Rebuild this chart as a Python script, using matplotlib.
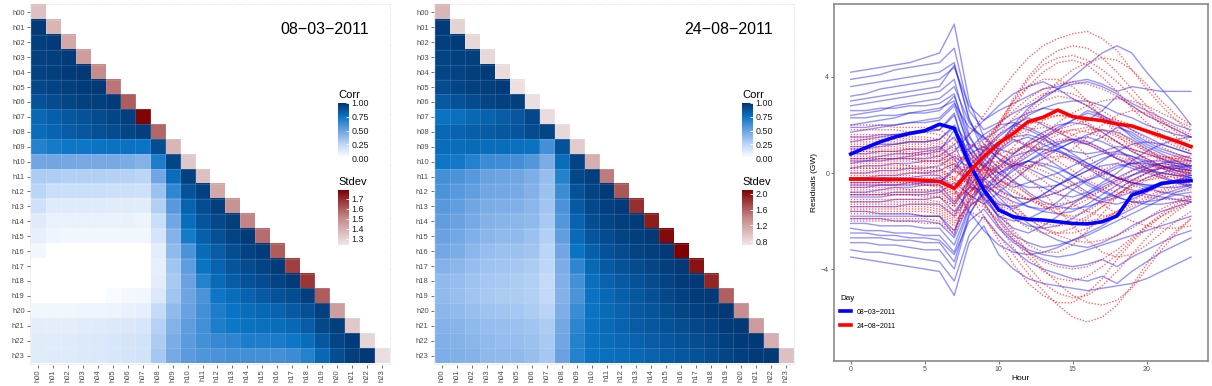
import numpy as np
import matplotlib
matplotlib.use("Agg")
import matplotlib.pyplot as plt
from matplotlib.colors import LinearSegmentedColormap, Normalize
from matplotlib.cm import ScalarMappable
from matplotlib.lines import Line2D

plt.rcParams['font.family'] = ['Liberation Sans', 'DejaVu Sans']

hours = [f"h{i:02d}" for i in range(24)]

# -----------------------------
# correlation rows (lower triangle), 08-03-2011
# -----------------------------
corr_mar = [
    [],
    [0.97],
    [0.96, 0.97],
    [0.95, 0.96, 0.97],
    [0.94, 0.96, 0.97, 0.98],
    [0.92, 0.94, 0.96, 0.97, 0.98],
    [0.88, 0.91, 0.93, 0.95, 0.96, 0.97],
    [0.80, 0.83, 0.86, 0.88, 0.91, 0.93, 0.96],
    [0.78, 0.81, 0.84, 0.86, 0.89, 0.91, 0.93, 0.96],
    [0.68, 0.72, 0.74, 0.74, 0.75, 0.76, 0.76, 0.75, 0.90],
    [0.48, 0.48, 0.47, 0.46, 0.46, 0.46, 0.45, 0.42, 0.70, 0.93],
    [0.30, 0.29, 0.28, 0.28, 0.28, 0.27, 0.27, 0.25, 0.48, 0.78, 0.95],
    [0.25, 0.20, 0.20, 0.20, 0.20, 0.19, 0.19, 0.18, 0.35, 0.65, 0.88, 0.95],
    [0.18, 0.12, 0.12, 0.12, 0.12, 0.11, 0.11, 0.11, 0.28, 0.55, 0.82, 0.90, 0.96],
    [0.12, 0.08, 0.08, 0.08, 0.08, 0.08, 0.08, 0.07, 0.20, 0.48, 0.78, 0.87, 0.92, 0.96],
    [0.09, 0.06, 0.05, 0.05, 0.05, 0.05, 0.05, 0.05, 0.16, 0.42, 0.72, 0.83, 0.89, 0.94, 0.97],
    [0.05, 0.0, 0.0, 0.0, 0.0, 0.0, 0.0, 0.0, 0.10, 0.38, 0.58, 0.79, 0.84, 0.90, 0.94, 0.97],
    [0.0, 0.0, 0.0, 0.0, 0.0, 0.0, 0.0, 0.0, 0.09, 0.33, 0.53, 0.75, 0.82, 0.87, 0.91, 0.94, 0.97],
    [0.0, 0.0, 0.0, 0.0, 0.0, 0.0, 0.0, 0.0, 0.10, 0.31, 0.50, 0.68, 0.79, 0.84, 0.88, 0.91, 0.94, 0.97],
    [0.0, 0.0, 0.0, 0.0, 0.0, 0.03, 0.04, 0.05, 0.14, 0.33, 0.49, 0.58, 0.74, 0.78, 0.82, 0.85, 0.88, 0.90, 0.96],
    [0.05, 0.05, 0.05, 0.06, 0.06, 0.07, 0.08, 0.09, 0.22, 0.38, 0.50, 0.60, 0.70, 0.75, 0.78, 0.80, 0.82, 0.85, 0.89, 0.95],
    [0.10, 0.10, 0.10, 0.11, 0.12, 0.13, 0.14, 0.15, 0.27, 0.42, 0.53, 0.60, 0.70, 0.74, 0.76, 0.77, 0.78, 0.80, 0.84, 0.92, 0.96],
    [0.11, 0.11, 0.12, 0.13, 0.14, 0.15, 0.16, 0.17, 0.30, 0.45, 0.54, 0.60, 0.64, 0.66, 0.70, 0.70, 0.71, 0.74, 0.78, 0.86, 0.93, 0.97],
    [0.11, 0.12, 0.12, 0.13, 0.14, 0.15, 0.16, 0.17, 0.32, 0.46, 0.54, 0.57, 0.58, 0.60, 0.60, 0.60, 0.60, 0.62, 0.68, 0.80, 0.90, 0.96, 0.98],
]
stdev_mar = [1.35, 1.38, 1.42, 1.45, 1.50, 1.55, 1.60, 1.78, 1.58, 1.38, 1.33, 1.35,
             1.42, 1.48, 1.52, 1.57, 1.60, 1.66, 1.68, 1.60, 1.45, 1.33, 1.29, 1.27]

# -----------------------------
# correlation rows (lower triangle), 24-08-2011
# -----------------------------
corr_aug = [
    [],
    [0.97],
    [0.96, 0.97],
    [0.94, 0.95, 0.96],
    [0.93, 0.94, 0.96, 0.97],
    [0.91, 0.93, 0.95, 0.96, 0.97],
    [0.85, 0.88, 0.91, 0.93, 0.95, 0.96],
    [0.75, 0.77, 0.80, 0.82, 0.84, 0.86, 0.92],
    [0.80, 0.81, 0.83, 0.84, 0.86, 0.87, 0.91, 0.93],
    [0.78, 0.78, 0.79, 0.78, 0.78, 0.77, 0.76, 0.60, 0.88],
    [0.74, 0.73, 0.68, 0.62, 0.61, 0.60, 0.56, 0.45, 0.78, 0.94],
    [0.60, 0.58, 0.55, 0.50, 0.49, 0.48, 0.44, 0.36, 0.68, 0.92, 0.96],
    [0.58, 0.55, 0.52, 0.48, 0.47, 0.46, 0.42, 0.35, 0.62, 0.88, 0.94, 0.97],
    [0.55, 0.52, 0.48, 0.45, 0.44, 0.43, 0.40, 0.33, 0.58, 0.85, 0.92, 0.95, 0.97],
    [0.52, 0.50, 0.46, 0.42, 0.41, 0.40, 0.38, 0.31, 0.56, 0.82, 0.90, 0.93, 0.96, 0.97],
    [0.50, 0.47, 0.43, 0.40, 0.38, 0.38, 0.35, 0.28, 0.52, 0.79, 0.87, 0.91, 0.94, 0.96, 0.98],
    [0.47, 0.45, 0.40, 0.37, 0.35, 0.35, 0.33, 0.25, 0.48, 0.75, 0.83, 0.88, 0.91, 0.94, 0.96, 0.98],
    [0.42, 0.40, 0.37, 0.34, 0.33, 0.32, 0.30, 0.24, 0.45, 0.66, 0.80, 0.85, 0.88, 0.91, 0.93, 0.96, 0.98],
    [0.38, 0.37, 0.34, 0.32, 0.31, 0.30, 0.28, 0.22, 0.43, 0.60, 0.77, 0.82, 0.85, 0.88, 0.91, 0.94, 0.97, 0.98],
    [0.38, 0.36, 0.33, 0.31, 0.30, 0.30, 0.28, 0.23, 0.42, 0.58, 0.76, 0.80, 0.83, 0.86, 0.89, 0.92, 0.95, 0.97, 0.98],
    [0.40, 0.38, 0.36, 0.34, 0.33, 0.32, 0.30, 0.26, 0.44, 0.62, 0.75, 0.79, 0.82, 0.85, 0.87, 0.90, 0.93, 0.95, 0.97, 0.98],
    [0.42, 0.41, 0.39, 0.37, 0.36, 0.35, 0.33, 0.30, 0.47, 0.66, 0.76, 0.79, 0.82, 0.84, 0.86, 0.88, 0.90, 0.92, 0.94, 0.97, 0.98],
    [0.43, 0.42, 0.40, 0.38, 0.37, 0.36, 0.35, 0.31, 0.48, 0.68, 0.76, 0.78, 0.80, 0.82, 0.84, 0.86, 0.88, 0.90, 0.92, 0.95, 0.97, 0.98],
    [0.44, 0.43, 0.42, 0.39, 0.38, 0.38, 0.36, 0.32, 0.50, 0.68, 0.75, 0.77, 0.78, 0.80, 0.82, 0.84, 0.86, 0.88, 0.90, 0.93, 0.96, 0.97, 0.98],
]
stdev_aug = [1.05, 0.85, 0.82, 0.80, 0.78, 0.76, 0.76, 0.78, 0.80, 0.90, 1.10, 1.45,
             1.65, 1.85, 1.95, 2.05, 2.10, 2.00, 1.90, 1.60, 1.35, 1.25, 1.10, 0.98]

# -----------------------------
# residual curves (GW) per hour 0..23
# -----------------------------
hour_idx = list(range(24))

mean_mar = [0.79, 1.05, 1.30, 1.50, 1.65, 1.76, 2.03, 1.86, 0.40, -0.70, -1.54, -1.82,
            -1.93, -1.96, -2.03, -2.10, -2.12, -2.03, -1.79, -0.92, -0.71, -0.43, -0.36, -0.32]
mean_aug = [-0.25, -0.25, -0.26, -0.27, -0.28, -0.30, -0.35, -0.64, 0.05, 0.68, 1.24, 1.65,
            2.14, 2.32, 2.62, 2.35, 2.26, 2.18, 2.04, 1.96, 1.75, 1.54, 1.33, 1.10]

runs_mar = [
    [4.2, 4.3, 4.4, 4.5, 4.6, 4.8, 5.0, 6.2, 3.0, 1.5, 1.0, 0.8, 1.2, 1.5, 1.9, 2.2, 2.6, 2.4, 2.0, 1.6, 1.2, 0.9, 0.7, 0.5],
    [3.9, 4.0, 4.1, 4.3, 4.4, 4.5, 4.6, 5.2, 2.6, 1.8, 2.1, 2.5, 2.8, 3.1, 3.5, 4.0, 4.5, 5.0, 5.3, 5.0, 4.2, 3.5, 2.8, 2.0],
    [3.6, 3.7, 3.8, 3.9, 4.0, 4.1, 4.2, 4.6, 2.2, 1.2, 0.6, 0.3, 0.5, 0.8, 1.0, 1.3, 1.6, 1.8, 1.7, 1.4, 1.0, 0.6, 0.3, 0.1],
    [3.2, 3.3, 3.5, 3.6, 3.7, 3.8, 3.9, 4.4, 2.8, 2.2, 2.6, 2.9, 3.2, 3.5, 3.6, 3.8, 3.9, 3.7, 3.4, 3.6, 3.5, 3.4, 3.4, 3.4],
    [2.8, 2.9, 3.0, 3.1, 3.2, 3.3, 3.4, 3.9, 1.6, 0.4, -0.3, -0.6, -0.4, -0.2, 0.0, 0.3, 0.6, 0.8, 0.9, 0.7, 0.4, 0.2, 0.0, -0.2],
    [2.4, 2.5, 2.6, 2.8, 2.9, 3.0, 3.1, 3.6, 2.1, 1.4, 1.8, 2.2, 2.5, 2.7, 2.6, 2.4, 2.2, 2.6, 3.2, 2.8, 2.4, 2.1, 1.8, 1.5],
    [2.0, 2.1, 2.2, 2.3, 2.5, 2.6, 2.7, 3.0, 1.0, -0.5, -1.2, -1.5, -1.2, -0.9, -0.5, -0.2, 0.1, 0.3, 0.4, 0.2, 0.0, -0.2, -0.4, -0.5],
    [1.7, 1.8, 1.9, 2.0, 2.1, 2.2, 2.3, 2.9, 1.9, 1.5, 0.8, 0.4, 0.9, 1.4, 1.8, 2.2, 2.5, 2.3, 2.0, 1.5, 1.1, 0.8, 0.5, 0.2],
    [1.3, 1.4, 1.5, 1.6, 1.6, 1.7, 1.8, 2.4, 0.6, -0.8, -1.9, -2.6, -2.9, -3.1, -3.0, -2.8, -2.6, -2.3, -2.0, -1.7, -1.4, -1.1, -0.8, -0.6],
    [1.0, 1.0, 1.1, 1.2, 1.3, 1.3, 1.4, 2.0, 1.2, 0.9, 1.5, 2.0, 2.3, 2.0, 1.7, 1.4, 1.2, 1.5, 1.9, 1.7, 1.3, 1.0, 0.8, 0.6],
    [0.6, 0.6, 0.7, 0.8, 0.8, 0.9, 1.0, 1.5, 0.3, -0.6, -0.4, 0.2, 0.5, 0.3, 0.0, -0.4, -0.8, -1.1, -0.9, -0.5, -0.2, 0.0, 0.2, 0.3],
    [0.2, 0.3, 0.3, 0.4, 0.4, 0.5, 0.5, 0.9, 1.6, 2.2, 2.8, 3.3, 3.6, 3.8, 3.5, 3.1, 2.8, 2.4, 2.1, 1.8, 1.5, 1.2, 1.0, 0.8],
    [-0.2, -0.2, -0.1, -0.1, 0.0, 0.0, 0.1, 0.4, -0.5, -1.0, -1.8, -2.3, -2.5, -2.2, -1.8, -1.3, -0.9, -0.5, -0.2, 0.1, 0.3, 0.4, 0.3, 0.2],
    [-0.6, -0.6, -0.5, -0.5, -0.5, -0.4, -0.4, 0.1, 0.8, 1.1, 0.6, 0.2, -0.3, -0.6, -0.9, -1.0, -0.8, -0.4, 0.0, 0.5, 0.9, 1.2, 1.4, 1.5],
    [-1.0, -1.0, -1.0, -0.9, -0.9, -0.9, -0.8, -0.4, -0.9, -1.3, -0.8, -0.3, 0.2, 0.6, 1.0, 1.3, 1.2, 0.9, 0.6, 0.4, 0.2, 0.0, -0.1, -0.2],
    [-1.4, -1.4, -1.4, -1.4, -1.3, -1.3, -1.3, -1.8, -0.6, 0.3, 1.0, 1.4, 1.1, 0.7, 0.3, -0.1, -0.5, -0.8, -1.0, -1.2, -1.3, -1.3, -1.2, -1.1],
    [-1.8, -1.8, -1.8, -1.8, -1.8, -1.8, -1.8, -2.4, -1.1, -0.3, -1.0, -1.6, -2.1, -2.5, -2.8, -3.0, -3.1, -2.9, -2.6, -2.2, -1.9, -1.6, -1.4, -1.2],
    [-2.1, -2.1, -2.2, -2.2, -2.2, -2.3, -2.3, -3.0, -1.4, -0.9, -0.4, 0.1, 0.5, 0.9, 1.2, 1.4, 1.5, 1.3, 1.0, 0.6, 0.2, -0.1, -0.4, -0.6],
    [-2.5, -2.5, -2.6, -2.6, -2.7, -2.7, -2.8, -3.4, -2.0, -1.5, -2.3, -2.9, -3.3, -3.6, -3.8, -3.9, -3.8, -3.6, -3.9, -3.5, -3.2, -2.9, -2.6, -2.4],
    [-2.9, -2.9, -3.0, -3.0, -3.1, -3.2, -3.2, -4.0, -1.8, -0.6, 0.0, 0.4, 0.2, -0.1, -0.4, -0.7, -1.0, -1.2, -1.3, -1.1, -0.8, -0.5, -0.3, -0.1],
    [-3.2, -3.3, -3.3, -3.4, -3.5, -3.6, -3.7, -4.5, -2.6, -1.8, -2.6, -3.2, -3.7, -4.0, -4.2, -4.4, -4.5, -4.3, -4.6, -4.1, -3.7, -3.3, -3.0, -2.7],
    [-3.5, -3.6, -3.7, -3.8, -3.9, -4.0, -4.1, -5.1, -2.9, -2.2, -3.4, -4.0, -4.4, -4.6, -4.7, -4.8, -4.9, -4.8, -4.7, -4.6, -4.4, -4.1, -3.8, -3.5],
    [0.4, 0.5, 0.6, 0.6, 0.7, 0.8, 0.9, 1.8, 0.9, 0.2, -0.5, -1.0, -1.4, -1.6, -1.7, -1.6, -1.3, -0.9, -0.5, -0.1, 0.2, 0.4, 0.5, 0.5],
    [-0.8, -0.8, -0.7, -0.6, -0.6, -0.5, -0.5, -1.2, -0.3, 0.5, 1.2, 1.9, 2.4, 2.7, 2.9, 3.0, 3.0, 2.8, 2.5, 2.3, 2.0, 1.8, 1.6, 1.5],
    [2.6, 2.6, 2.7, 2.7, 2.8, 2.8, 2.9, 3.3, 1.2, 0.2, 0.9, 1.3, 1.5, 1.2, 0.9, 0.6, 0.3, 0.1, -0.2, -0.4, -0.6, -0.8, -0.9, -1.0],
    [-1.6, -1.6, -1.7, -1.7, -1.7, -1.8, -1.8, -2.6, -0.2, 1.0, 1.6, 2.0, 1.8, 1.5, 1.0, 0.6, 0.2, -0.2, -0.5, -0.7, -0.9, -1.0, -1.1, -1.2],
    [1.5, 1.5, 1.6, 1.6, 1.7, 1.8, 1.8, 2.5, 0.4, -1.2, -2.2, -2.8, -3.2, -3.4, -3.5, -3.4, -3.2, -3.0, -2.8, -2.6, -2.4, -2.2, -2.0, -1.8],
    [-2.3, -2.4, -2.4, -2.5, -2.5, -2.6, -2.6, -3.3, -1.5, -0.2, 1.1, 2.0, 2.7, 3.2, 3.5, 3.7, 3.8, 3.6, 3.3, 2.9, 2.6, 2.3, 2.0, 1.8],
    [3.0, 3.1, 3.2, 3.3, 3.4, 3.5, 3.6, 4.5, 2.3, 0.8, 0.2, -0.3, -0.8, -1.2, -1.4, -1.5, -1.4, -1.2, -1.0, -0.8, -0.6, -0.4, -0.3, -0.2],
    [-0.4, -0.4, -0.4, -0.3, -0.3, -0.3, -0.2, -0.7, -1.6, -2.4, -3.0, -3.3, -3.4, -3.3, -3.1, -2.8, -2.5, -2.2, -1.8, -1.5, -1.2, -0.9, -0.7, -0.5],
    [1.1, 1.1, 1.2, 1.2, 1.3, 1.3, 1.4, 1.9, 0.7, -0.2, -0.7, -1.0, -1.1, -1.0, -0.8, -0.5, -0.3, -0.1, 0.2, 0.4, 0.5, 0.5, 0.4, 0.3],
    [-0.3, -0.3, -0.2, -0.2, -0.2, -0.1, -0.1, -0.6, 0.3, 0.9, 1.3, 1.5, 1.6, 1.4, 1.1, 0.9, 0.8, 0.9, 1.1, 1.0, 0.8, 0.6, 0.4, 0.3],
    [0.8, 0.8, 0.9, 0.9, 1.0, 1.0, 1.1, 0.6, -0.4, -0.9, -1.3, -1.4, -1.2, -0.9, -0.5, -0.1, 0.3, 0.6, 0.8, 0.7, 0.5, 0.3, 0.1, 0.0],
    [-1.2, -1.2, -1.2, -1.1, -1.1, -1.1, -1.0, -1.6, -0.8, -0.2, 0.3, 0.7, 0.9, 1.0, 0.9, 0.7, 0.4, 0.1, -0.2, -0.4, -0.5, -0.6, -0.6, -0.5],
    [1.9, 1.9, 2.0, 2.0, 2.1, 2.1, 2.2, 2.8, 1.1, 0.3, 0.0, 0.3, 0.7, 1.1, 1.3, 1.4, 1.3, 1.0, 0.6, 0.3, 0.1, 0.0, -0.1, -0.1],
    [-1.9, -1.9, -1.9, -2.0, -2.0, -2.0, -2.1, -2.7, -1.2, -0.5, -0.9, -1.2, -1.4, -1.5, -1.4, -1.2, -0.9, -0.6, -0.3, -0.1, 0.1, 0.2, 0.2, 0.1],
    [0.0, 0.0, 0.1, 0.1, 0.2, 0.2, 0.3, 0.7, 0.2, -0.3, 0.2, 0.8, 1.3, 1.7, 2.0, 2.1, 2.0, 1.7, 1.3, 0.9, 0.6, 0.3, 0.1, -0.1],
    [-0.9, -0.9, -0.9, -0.8, -0.8, -0.8, -0.7, -1.3, -0.6, -0.7, -1.4, -1.9, -2.2, -2.3, -2.2, -1.9, -1.5, -1.1, -0.7, -0.3, 0.0, 0.2, 0.3, 0.3],
    [2.3, 2.3, 2.4, 2.4, 2.5, 2.5, 2.6, 3.2, 1.5, 0.6, 0.0, -0.4, -0.6, -0.6, -0.5, -0.2, 0.1, 0.5, 0.9, 1.2, 1.3, 1.2, 1.0, 0.8],
    [-2.7, -2.7, -2.7, -2.8, -2.8, -2.9, -2.9, -3.7, -1.7, -0.8, -0.1, 0.3, 0.5, 0.4, 0.2, -0.1, -0.4, -0.7, -1.0, -1.2, -1.2, -1.1, -0.9, -0.8],
    [0.5, 0.5, 0.5, 0.6, 0.6, 0.6, 0.7, 1.2, -0.2, -1.1, -1.8, -2.0, -1.9, -1.6, -1.2, -0.7, -0.3, 0.0, 0.3, 0.4, 0.4, 0.3, 0.2, 0.1],
    [-0.5, -0.5, -0.5, -0.5, -0.4, -0.4, -0.4, 0.2, 1.0, 1.6, 2.0, 2.1, 1.9, 1.6, 1.2, 0.8, 0.4, 0.1, -0.2, -0.4, -0.5, -0.5, -0.4, -0.3],
]

runs_aug = [
    [1.8, 1.8, 1.8, 1.8, 1.7, 1.7, 1.6, 1.2, 1.6, 2.4, 3.3, 4.1, 4.8, 5.3, 5.6, 5.8, 5.9, 5.6, 5.1, 4.3, 3.5, 2.8, 2.2, 1.7],
    [1.5, 1.5, 1.5, 1.5, 1.4, 1.4, 1.3, 0.9, 1.0, 1.4, 2.0, 2.6, 3.1, 3.5, 3.7, 3.8, 3.7, 3.5, 3.2, 2.8, 2.4, 2.1, 1.8, 1.5],
    [1.2, 1.2, 1.2, 1.2, 1.1, 1.1, 1.0, 0.6, 0.6, 0.8, 1.3, 1.9, 2.6, 3.2, 3.8, 4.3, 4.6, 4.8, 4.7, 4.3, 3.7, 3.0, 2.4, 2.0],
    [0.9, 0.9, 0.9, 0.9, 0.8, 0.8, 0.7, 0.3, 0.2, 0.1, 0.4, 0.8, 1.2, 1.5, 1.7, 1.8, 1.7, 1.5, 1.3, 1.0, 0.8, 0.6, 0.5, 0.4],
    [0.6, 0.6, 0.6, 0.6, 0.6, 0.5, 0.5, 0.1, -0.2, -0.5, -0.9, -1.4, -1.9, -2.3, -2.6, -2.8, -2.9, -2.8, -2.6, -2.3, -1.9, -1.5, -1.2, -0.9],
    [0.4, 0.4, 0.4, 0.4, 0.3, 0.3, 0.2, -0.2, 0.3, 0.9, 1.6, 2.3, 2.9, 3.3, 3.4, 3.3, 3.0, 2.6, 2.2, 1.8, 1.4, 1.1, 0.8, 0.6],
    [0.1, 0.1, 0.1, 0.1, 0.1, 0.0, 0.0, -0.4, -0.6, -1.0, -1.7, -2.5, -3.3, -4.0, -4.6, -5.1, -5.4, -5.5, -5.3, -4.8, -4.0, -3.2, -2.5, -1.9],
    [-0.2, -0.2, -0.2, -0.2, -0.2, -0.3, -0.3, -0.7, -0.2, 0.3, 0.8, 1.0, 1.1, 1.0, 0.8, 0.5, 0.2, 0.0, -0.2, -0.3, -0.3, -0.2, -0.1, 0.0],
    [-0.5, -0.5, -0.5, -0.5, -0.5, -0.5, -0.6, -1.0, -0.7, -0.6, -0.8, -1.0, -1.1, -1.0, -0.8, -0.5, -0.2, 0.1, 0.4, 0.6, 0.7, 0.7, 0.6, 0.5],
    [-0.8, -0.8, -0.8, -0.8, -0.8, -0.8, -0.9, -1.3, -0.4, 0.7, 1.9, 3.0, 3.9, 4.5, 4.8, 4.9, 4.7, 4.3, 3.8, 3.2, 2.6, 2.0, 1.5, 1.1],
    [-1.1, -1.1, -1.1, -1.1, -1.1, -1.1, -1.2, -1.6, -1.2, -1.4, -2.0, -2.7, -3.3, -3.7, -3.9, -4.0, -3.9, -3.6, -3.2, -2.7, -2.2, -1.8, -1.5, -1.2],
    [-1.4, -1.4, -1.4, -1.4, -1.4, -1.4, -1.5, -1.9, -0.9, -0.1, 0.5, 0.9, 1.2, 1.5, 1.8, 2.0, 2.2, 2.3, 2.2, 2.0, 1.7, 1.4, 1.1, 0.9],
    [-1.7, -1.7, -1.7, -1.7, -1.7, -1.8, -1.8, -2.2, -1.6, -1.9, -2.6, -3.4, -4.2, -4.9, -5.5, -6.0, -6.2, -6.0, -5.5, -4.7, -3.8, -3.0, -2.4, -1.9],
    [-2.0, -2.0, -2.0, -2.0, -2.0, -2.1, -2.1, -2.5, -1.2, -0.3, 0.2, 0.3, 0.1, -0.3, -0.8, -1.3, -1.6, -1.8, -1.7, -1.4, -1.1, -0.8, -0.6, -0.4],
    [2.0, 2.0, 2.0, 1.9, 1.9, 1.9, 1.8, 1.4, 0.9, 0.2, -0.6, -1.3, -1.9, -2.3, -2.5, -2.5, -2.3, -2.0, -1.6, -1.2, -0.8, -0.5, -0.2, 0.0],
    [1.0, 1.0, 1.0, 1.0, 1.0, 0.9, 0.9, 0.5, 0.7, 1.2, 2.0, 2.8, 3.6, 4.2, 4.6, 4.7, 4.5, 4.0, 3.4, 2.7, 2.1, 1.6, 1.2, 0.9],
    [0.2, 0.2, 0.2, 0.2, 0.2, 0.1, 0.1, -0.3, -0.4, -0.3, 0.1, 0.6, 1.1, 1.6, 2.1, 2.5, 2.8, 3.0, 3.1, 3.0, 2.8, 2.5, 2.2, 1.9],
    [-0.3, -0.3, -0.3, -0.3, -0.3, -0.4, -0.4, -0.8, -0.9, -1.3, -2.0, -2.8, -3.5, -4.1, -4.4, -4.5, -4.3, -3.9, -3.4, -2.8, -2.2, -1.7, -1.3, -1.0],
    [-0.6, -0.6, -0.6, -0.6, -0.7, -0.7, -0.7, -1.1, -0.5, 0.0, 0.3, 0.4, 0.3, 0.1, -0.2, -0.5, -0.9, -1.3, -1.7, -2.0, -2.2, -2.3, -2.3, -2.2],
    [-1.2, -1.2, -1.2, -1.2, -1.2, -1.2, -1.3, -1.7, -0.8, 0.0, 0.9, 1.8, 2.5, 3.0, 3.2, 3.1, 2.8, 2.3, 1.8, 1.3, 0.9, 0.5, 0.2, 0.0],
    [1.4, 1.4, 1.4, 1.4, 1.3, 1.3, 1.2, 0.8, 0.4, 0.0, -0.4, -0.8, -1.1, -1.3, -1.3, -1.2, -1.0, -0.7, -0.4, -0.1, 0.2, 0.4, 0.6, 0.7],
    [0.7, 0.7, 0.7, 0.7, 0.7, 0.6, 0.6, 0.2, -0.5, -1.3, -2.2, -3.1, -3.9, -4.6, -5.0, -5.2, -5.1, -4.7, -4.1, -3.4, -2.7, -2.1, -1.6, -1.2],
    [-0.9, -0.9, -0.9, -0.9, -0.9, -1.0, -1.0, -1.4, -0.2, 0.9, 2.0, 3.1, 4.0, 4.7, 5.1, 5.3, 5.2, 4.8, 4.2, 3.5, 2.8, 2.2, 1.7, 1.3],
    [-1.5, -1.5, -1.5, -1.5, -1.5, -1.5, -1.6, -2.0, -1.4, -1.0, -0.5, -0.1, 0.3, 0.6, 0.7, 0.6, 0.3, -0.1, -0.5, -0.8, -1.0, -1.1, -1.1, -1.0],
    [0.0, 0.0, 0.0, 0.0, 0.0, 0.0, -0.1, -0.5, 0.0, 0.4, 0.5, 0.3, -0.2, -0.8, -1.5, -2.2, -2.8, -3.3, -3.5, -3.4, -3.0, -2.5, -2.0, -1.6],
    [1.6, 1.6, 1.6, 1.6, 1.5, 1.5, 1.4, 1.0, 1.2, 1.1, 0.8, 0.5, 0.3, 0.3, 0.6, 1.0, 1.5, 2.0, 2.4, 2.6, 2.5, 2.2, 1.9, 1.6],
    [-1.9, -1.9, -1.9, -1.9, -1.9, -1.9, -2.0, -2.4, -1.0, 0.2, 1.2, 1.8, 2.1, 2.1, 1.8, 1.3, 0.7, 0.2, -0.2, -0.5, -0.7, -0.8, -0.8, -0.7],
    [0.8, 0.8, 0.8, 0.8, 0.8, 0.7, 0.7, 0.3, 0.0, -0.6, -1.5, -2.4, -3.0, -3.3, -3.3, -3.0, -2.4, -1.7, -1.0, -0.4, 0.0, 0.3, 0.4, 0.4],
    [-0.4, -0.4, -0.4, -0.4, -0.4, -0.5, -0.5, -0.9, 0.1, 1.1, 2.1, 3.0, 3.6, 3.9, 3.9, 3.6, 3.0, 2.3, 1.6, 1.0, 0.5, 0.2, -0.1, -0.3],
    [0.3, 0.3, 0.3, 0.3, 0.3, 0.2, 0.2, -0.2, -0.9, -1.8, -2.8, -3.8, -4.6, -5.1, -5.4, -5.4, -5.0, -4.4, -3.6, -2.9, -2.3, -1.8, -1.4, -1.1],
    [0.5, 0.5, 0.5, 0.5, 0.5, 0.4, 0.4, 0.0, 0.2, 0.6, 1.1, 1.5, 1.8, 1.9, 1.8, 1.6, 1.3, 1.0, 0.7, 0.5, 0.3, 0.2, 0.1, 0.1],
    [-0.9, -0.9, -0.9, -0.9, -0.9, -0.9, -1.0, -1.4, -0.8, -0.4, -0.3, -0.5, -0.9, -1.3, -1.7, -1.9, -2.0, -1.9, -1.6, -1.3, -1.0, -0.7, -0.5, -0.3],
    [1.1, 1.1, 1.1, 1.1, 1.0, 1.0, 0.9, 0.5, 0.3, 0.1, 0.2, 0.5, 0.9, 1.3, 1.6, 1.8, 1.9, 1.8, 1.5, 1.2, 0.9, 0.7, 0.6, 0.5],
    [-0.1, -0.1, -0.1, -0.1, -0.1, -0.2, -0.2, -0.6, -0.1, 0.2, 0.0, -0.4, -0.9, -1.4, -1.7, -1.8, -1.6, -1.2, -0.7, -0.3, 0.0, 0.2, 0.3, 0.3],
    [-1.3, -1.3, -1.3, -1.3, -1.3, -1.3, -1.4, -1.8, -1.0, -0.6, -0.2, 0.3, 0.8, 1.2, 1.4, 1.4, 1.2, 0.9, 0.6, 0.3, 0.1, -0.1, -0.2, -0.3],
    [0.2, 0.2, 0.2, 0.2, 0.2, 0.1, 0.1, -0.3, 0.5, 1.1, 1.4, 1.4, 1.2, 0.9, 0.5, 0.1, -0.3, -0.6, -0.8, -0.8, -0.7, -0.5, -0.3, -0.2],
    [-0.7, -0.7, -0.7, -0.7, -0.7, -0.7, -0.8, -1.2, -0.6, -0.2, 0.4, 1.1, 1.7, 2.2, 2.4, 2.4, 2.1, 1.7, 1.3, 0.9, 0.6, 0.3, 0.1, 0.0],
    [1.3, 1.3, 1.3, 1.3, 1.2, 1.2, 1.1, 0.7, 0.6, 0.3, -0.2, -0.7, -1.1, -1.4, -1.5, -1.4, -1.1, -0.7, -0.3, 0.1, 0.4, 0.6, 0.7, 0.7],
    [-1.6, -1.6, -1.6, -1.6, -1.6, -1.6, -1.7, -2.1, -1.3, -1.1, -1.3, -1.6, -1.9, -2.1, -2.2, -2.1, -1.8, -1.4, -1.0, -0.6, -0.3, -0.1, 0.0, 0.0],
    [0.6, 0.6, 0.6, 0.6, 0.6, 0.5, 0.5, 0.1, -0.3, -0.6, -0.6, -0.3, 0.2, 0.7, 1.2, 1.6, 1.8, 1.8, 1.6, 1.3, 1.0, 0.7, 0.5, 0.3],
    [-0.4, -0.4, -0.4, -0.4, -0.4, -0.5, -0.5, -0.9, -0.4, 0.2, 0.9, 1.5, 2.0, 2.3, 2.4, 2.3, 2.0, 1.5, 1.0, 0.5, 0.1, -0.2, -0.4, -0.5],
    [0.9, 0.9, 0.9, 0.9, 0.9, 0.8, 0.8, 0.4, -0.1, -0.7, -1.3, -1.9, -2.3, -2.5, -2.5, -2.3, -1.9, -1.4, -0.9, -0.5, -0.2, 0.0, 0.1, 0.2],
]

# -----------------------------
# colours
# -----------------------------
corr_cmap = LinearSegmentedColormap.from_list(
    "corr", [(0, "#ffffff"), (0.25, "#bcd6f7"), (0.5, "#6aa2e2"), (0.75, "#0b75c5"), (1.0, "#023470")])
sd_cmap = LinearSegmentedColormap.from_list(
    "sd", [(0, "#efe7e7"), (0.5, "#c48788"), (1.0, "#7f0000")])

W, H = 1212, 386
fig = plt.figure(figsize=(W / 100, H / 100), dpi=100)


def fx(px):
    return px / W


def fy(py):
    return 1 - py / H


def heatmap(left, rows, stdev, sd_lim, sd_ticks, title):
    ax = fig.add_axes([fx(left), fy(364.5), 361 / W, 361 / H])
    ax.set_facecolor("#ebebeb")
    n = len(hours)
    lower = np.full((n, n), np.nan)
    for i, r in enumerate(rows):
        for j, v in enumerate(r):
            lower[i, j] = v
    diag = np.full((n, n), np.nan)
    for i, v in enumerate(stdev):
        diag[i, i] = v

    ext = (-0.5, n - 0.5, n - 0.5, -0.5)
    ax.add_patch(plt.Rectangle((-0.5, -0.5), n, n, color="white", zorder=1))
    ax.imshow(np.ma.masked_invalid(lower), cmap=corr_cmap, vmin=0, vmax=1,
              extent=ext, interpolation="nearest", zorder=2, aspect="auto")
    ax.imshow(np.ma.masked_invalid(diag), cmap=sd_cmap, vmin=sd_lim[0], vmax=sd_lim[1],
              extent=ext, interpolation="nearest", zorder=2, aspect="auto")
    # faint tile edges
    for k in range(n + 1):
        ax.plot([k - 0.5, k - 0.5], [-0.5, n - 0.5], color="white", lw=0.5, alpha=0.18, zorder=3)
        ax.plot([-0.5, n - 0.5], [k - 0.5, k - 0.5], color="white", lw=0.5, alpha=0.18, zorder=3)

    ax.set_xlim(-0.6, n - 0.4)
    ax.set_ylim(n - 0.4, -0.6)
    ax.set_xticks(range(n))
    ax.set_yticks(range(n))
    ax.set_xticklabels(hours, rotation=90)
    ax.set_yticklabels(hours)
    ax.grid(True, color="white", lw=0.8)
    ax.set_axisbelow(True)
    ax.tick_params(length=2, width=0.5, color="#333333", labelsize=5.5,
                   labelcolor="#4d4d4d", pad=1.5)
    for s in ax.spines.values():
        s.set_visible(False)

    fig.text(fx(left + 339.5), fy(30), title, ha="right", va="center", fontsize=11.5)

    # legends
    bx = left + 308.5
    fig.text(fx(bx), fy(100), "Corr", ha="left", va="bottom", fontsize=8)
    cax = fig.add_axes([fx(bx), fy(158), 11 / W, 55 / H])
    cb = fig.colorbar(ScalarMappable(Normalize(0, 1), corr_cmap), cax=cax)
    cb.set_ticks([0, 0.25, 0.5, 0.75, 1.0])
    cb.set_ticklabels(["0.00", "0.25", "0.50", "0.75", "1.00"])
    cb.outline.set_visible(False)
    cax.tick_params(direction="in", color="white", length=2.5, width=0.6,
                    labelsize=6.4, pad=2, labelcolor="#1a1a1a")

    fig.text(fx(bx), fy(187), "Stdev", ha="left", va="bottom", fontsize=8)
    sax = fig.add_axes([fx(bx), fy(245), 11 / W, 55 / H])
    sb = fig.colorbar(ScalarMappable(Normalize(*sd_lim), sd_cmap), cax=sax)
    sb.set_ticks(sd_ticks)
    sb.set_ticklabels([f"{t:.1f}" for t in sd_ticks])
    sb.outline.set_visible(False)
    sax.tick_params(direction="in", color="white", length=2.5, width=0.6,
                    labelsize=6.4, pad=2, labelcolor="#1a1a1a")


heatmap(29.5, corr_mar, stdev_mar, (1.24, 1.79), [1.3, 1.4, 1.5, 1.6, 1.7],
        "08\u221203\u22122011")
heatmap(433.5, corr_aug, stdev_aug, (0.7, 2.1), [0.8, 1.2, 1.6, 2.0],
        "24\u221208\u22122011")

# -----------------------------
# residual curves
# -----------------------------
ax3 = fig.add_axes([fx(834), fy(361), 374 / W, 357 / H])
for r in runs_mar:
    ax3.plot(hour_idx, r, color="#0000ff", lw=1.0, alpha=0.42)
for r in runs_aug:
    ax3.plot(hour_idx, r, color="#ff0000", lw=1.0, alpha=0.6, ls=(0, (1, 1.2)))
ax3.plot(hour_idx, mean_mar, color="#0000ff", lw=2.6)
ax3.plot(hour_idx, mean_aug, color="#ff0000", lw=2.6)

ax3.set_xlim(-1.13, 24.15)
ax3.set_ylim(-7.83, 7.04)
ax3.set_xticks([0, 5, 10, 15, 20])
ax3.set_yticks([-4, 0, 4])
ax3.tick_params(length=2, width=0.6, color="#555555", labelsize=5, labelcolor="#4d4d4d", pad=1.5)
for s in ax3.spines.values():
    s.set_color("#8a8a8a")
    s.set_linewidth(1.2)
ax3.set_xlabel("Hour", fontsize=6, labelpad=1.5)
ax3.set_ylabel("Residuals (GW)", fontsize=6, labelpad=2)

handles = [Line2D([0], [0], color="#0000ff", lw=2.6),
           Line2D([0], [0], color="#ff0000", lw=2.6)]
leg = ax3.legend(handles, ["08\u221203\u22122011", "24\u221208\u22122011"], title="Day",
                 loc="lower left", bbox_to_anchor=(0.0, 0.07), frameon=False,
                 fontsize=5, title_fontsize=5.8, handlelength=1.6, labelspacing=1.0,
                 alignment="left")

fig.savefig("out.png", dpi=100)
